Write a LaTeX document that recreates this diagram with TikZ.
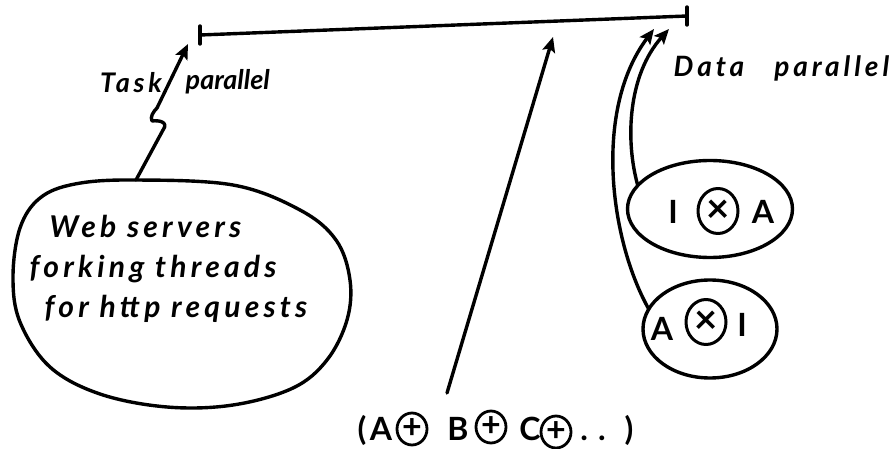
\documentclass[tikz,border=0pt]{standalone}
\usepackage{fontspec}
\setmainfont{Lato}
\newfontfamily\hand{Lato}[LetterSpace=14]
\newfontfamily\plainhand{Lato}
\usetikzlibrary{arrows.meta,shapes.geometric}
\begin{document}
\begin{tikzpicture}[x=1pt,y=-1pt, line width=3.4pt, line cap=round, line join=round,
  arr/.style={-{Stealth[length=15pt,width=13pt,inset=3pt]}},
  txt/.style={font=\hand\bfseries\itshape\fontsize{30}{40}\selectfont, inner sep=0pt},
  lbl/.style={font=\hand\bfseries\itshape\fontsize{27}{30}\selectfont, inner sep=0pt},
  blob/.style={draw, ellipse, inner sep=0pt, outer sep=0pt},
  opc/.style={draw, ellipse, inner sep=0pt, outer sep=0pt, minimum width=30pt, minimum height=32pt, line width=2.8pt, font=\plainhand\bfseries\fontsize{34}{34}\selectfont},
  xc/.style={draw, ellipse, inner sep=0pt, outer sep=0pt, minimum width=40pt, minimum height=45pt, line width=3pt, font=\plainhand\bfseries\fontsize{40}{40}\selectfont},
  sym/.style={inner sep=0pt, font=\plainhand\bfseries\fontsize{32}{32}\selectfont}]
\useasboundingbox (0,0) rectangle (895,449);
\fill[white] (0,0) rectangle (895,449);

% scale line
\coordinate (sL) at (200,35);
\coordinate (sR) at (687,16);
\draw (sL) -- (sR);
\draw ([yshift=9pt]sL) -- ([yshift=-9pt]sL);
\draw ([yshift=9pt]sR) -- ([yshift=-9pt]sR);

% web servers blob (egg shape)
\draw plot[smooth cycle, tension=0.6] coordinates {
  (133,180) (233,185) (300,210) (336,240) (350,280) (347,320) (327,360)
  (293,388) (233,405) (167,407) (100,394) (50,367) (20,322) (13,277)
  (20,228) (40,198) (75,184)};
\coordinate (webtop) at (136,180);
\node[txt, anchor=north west, align=left] (webtxt) at (28,214)
  {\hspace*{20pt}Web servers\\forking threads\\\hspace*{15pt}for http requests};

% task parallel
\coordinate (tTip) at (188,44);
\draw[arr] (webtop) -- (163,130) .. controls (169,122) and (159,120) .. (152,121)
  .. controls (150,117) and (153,112) .. (157,108) -- (tTip);
\node[lbl, anchor=base] (task) at (131,93) {Task};
\node[lbl, font=\plainhand\bfseries\itshape\fontsize{27}{30}\selectfont, anchor=base west] (tpar) at (184,90) {parallel};

% middle arrow and expression
\coordinate (mB) at (447,393);
\coordinate (mT) at (553,37);
\draw[arr] (mB) -- (mT);
\node[sym, anchor=base] (lp) at (362,440) {(};
\node[sym, anchor=base] (eA) at (381,440) {A};
\node[opc] (op1) at (412,429) {+};
\node[sym, anchor=base] (eB) at (458,440) {B};
\node[opc] (op2) at (491,427) {+};
\node[sym, anchor=base] (eC) at (530,440) {C};
\node[opc] (op3) at (556,432) {+};
\node[sym, anchor=base] (dots) at (593,440) {.\hspace{10pt}.};
\node[sym, anchor=base] (rp) at (629,440) {)};

% data parallel
\node[blob, minimum width=165pt, minimum height=97pt] (e1) at (710,209) {};
\node[sym, anchor=base] (i1) at (673,224) {I};
\node[xc] (x1) at (718,211) {×};
\node[sym, anchor=base] (a1) at (763,224) {A};
\node[blob, minimum width=134pt, minimum height=98pt] (e2) at (710,329) {};
\node[sym, anchor=base] (a2) at (662,341) {A};
\node[xc] (x2) at (706,322) {×};
\node[sym, anchor=base] (i2) at (742,337) {I};
\coordinate (dT1) at (654,29);
\coordinate (dT2) at (669,29);
\draw[arr] (e2.162) .. controls (610,240) and (593,110) .. (dT1);
\draw[arr] (e1.162) .. controls (625,140) and (628,75) .. (dT2);
\node[lbl, font=\hand\bfseries\itshape\fontsize{28}{30}\selectfont, anchor=base west] (dpar) at (672,77) {Data\ \ \ parallel};
\end{tikzpicture}
\end{document}
